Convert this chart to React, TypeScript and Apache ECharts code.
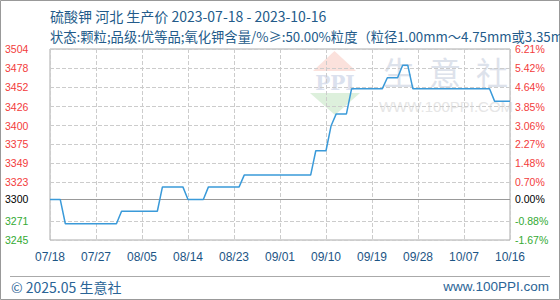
import React, { useEffect, useRef } from 'react';
import * as echarts from 'echarts';

const titleText = '硫酸钾 河北 生产价 2023-07-18 - 2023-10-16';
const subtitleText = '状态:颗粒;品级:优等品;氧化钾含量/%≥:50.00%粒度（粒径1.00mm～4.75mm或3.35mm～5.00mm）≥90%';
const footerLeft = '© 2025.05 生意社';
const footerRight = 'www.100PPI.com';

const startYear = 2023;
const startMonth = 7;
const startDay = 18;
const dayCount = 91;

const changeDates = [
  '07/18', '07/20', '07/21', '07/31', '08/01', '08/08', '08/09', '08/13', '08/14', '08/17',
  '08/18', '08/24', '08/25', '09/07', '09/08', '09/10', '09/11', '09/12', '09/14', '09/15',
  '09/21', '09/22', '09/24', '09/25', '09/26', '09/27', '10/12', '10/13', '10/16',
];
const changeValues = [
  3300, 3300, 3267, 3267, 3284, 3284, 3317, 3317, 3300, 3300,
  3317, 3317, 3333, 3333, 3366, 3366, 3400, 3416, 3416, 3450,
  3450, 3465, 3465, 3482, 3482, 3450, 3450, 3433, 3433,
];

const baseValue = 3300;
const leftTicks = [3245, 3271, 3300, 3323, 3349, 3375, 3400, 3426, 3452, 3478, 3504];
const rightTickLabels = ['-1.67%', '-0.88%', '0.00%', '0.70%', '1.48%', '2.27%', '3.06%', '3.85%', '4.64%', '5.42%', '6.21%'];

const pad = (n: number) => (n < 10 ? '0' + n : String(n));
const categories: string[] = [];
for (let i = 0; i < dayCount; i++) {
  const d = new Date(Date.UTC(startYear, startMonth - 1, startDay + i));
  categories.push(pad(d.getUTCMonth() + 1) + '/' + pad(d.getUTCDate()));
}

const RED = '#f33b3b';
const GREEN = '#33aa33';
const LABEL_FONT = "'Liberation Sans', Arial, sans-serif";
const CJK_FONT = "'Noto Sans CJK SC', 'Liberation Sans', sans-serif";

const tickColor = (v: any) => {
  const n = Number(v);
  if (n > baseValue) return RED;
  if (n < baseValue) return GREEN;
  return '#000';
};

export default function App() {
  const ref = useRef<HTMLDivElement>(null);
  useEffect(() => {
    document.body.style.margin = '0';
    if (!ref.current) return;
    const chart = echarts.init(ref.current, undefined, { renderer: 'svg' });
    const option: any = {
      animation: false,
      backgroundColor: '#fff',
      grid: {
        left: 50, right: 50, top: 49, bottom: 60,
        show: true, borderColor: '#aaa', borderWidth: 1, backgroundColor: 'transparent',
      },
      xAxis: {
        type: 'category',
        data: categories,
        boundaryGap: false,
        axisLine: { show: false },
        axisTick: { show: false },
        axisLabel: { interval: 8, color: '#1d5585', fontSize: 12, fontFamily: LABEL_FONT, margin: 11 },
        splitLine: { show: true, interval: 8, lineStyle: { color: '#cccccc', type: 'dashed', width: 1 } },
      },
      yAxis: [
        {
          type: 'value', min: 3245, max: 3504, position: 'left',
          axisLine: { show: false },
          axisTick: { show: false, customValues: leftTicks },
          axisLabel: {
            customValues: leftTicks,
            formatter: (v: any) => String(v),
            color: tickColor,
            align: 'left', margin: 45, fontSize: 10.5, fontFamily: LABEL_FONT,
          },
          splitLine: { show: true, lineStyle: { color: '#cccccc', type: 'dashed', width: 1 } },
        },
        {
          type: 'value', min: 3245, max: 3504, position: 'right',
          axisLine: { show: false },
          axisTick: { show: false, customValues: leftTicks },
          axisLabel: {
            customValues: leftTicks,
            formatter: (v: any) => rightTickLabels[leftTicks.indexOf(Number(v))] ?? '',
            color: tickColor,
            align: 'left', margin: 5, fontSize: 10.5, fontFamily: LABEL_FONT,
          },
          splitLine: { show: false },
        },
      ],
      series: [
        {
          type: 'line',
          data: changeDates.map((d, i) => [d, changeValues[i]]),
          showSymbol: false,
          symbol: 'none',
          lineStyle: { color: '#3a9ad9', width: 1.5 },
          z: 3,
          markLine: {
            silent: true,
            symbol: 'none',
            label: { show: false },
            lineStyle: { color: '#999', type: 'solid', width: 1 },
            data: [{ yAxis: baseValue }],
            z: 2,
          },
        },
      ],
      graphic: [
        { type: 'rect', z: -5, shape: { x: 0.5, y: 0.5, width: 559, height: 299 }, style: { fill: 'none', stroke: '#999', lineWidth: 1 } },
        // watermark
        { type: 'polygon', z: -5, shape: { points: [[334.5, 51], [313, 71], [356, 71]] }, style: { fill: '#fbe1dc' } },
        { type: 'text', z: -5, x: 335, y: 83, style: { text: 'PPI', fontSize: 20, fontWeight: 'bold', fill: '#dbe1ee', align: 'center', verticalAlign: 'middle', fontFamily: "'DejaVu Serif', serif" } },
        { type: 'polygon', z: -5, shape: { points: [[310, 93], [360, 93], [335, 115]] }, style: { fill: '#ddf0dc' } },
        { type: 'text', z: -5, x: 399, y: 71, style: { text: '生', fontSize: 32, fill: '#dde2eb', align: 'center', verticalAlign: 'middle', fontFamily: CJK_FONT } },
        { type: 'text', z: -5, x: 445, y: 71, style: { text: '意', fontSize: 32, fill: '#dde2eb', align: 'center', verticalAlign: 'middle', fontFamily: CJK_FONT } },
        { type: 'text', z: -5, x: 492, y: 71, style: { text: '社', fontSize: 32, fill: '#dde2eb', align: 'center', verticalAlign: 'middle', fontFamily: CJK_FONT } },
        { type: 'text', z: -5, x: 446, y: 106, style: { text: 'WWW.100PPI.COM', fontSize: 15, fill: '#e6e6e6', align: 'center', verticalAlign: 'middle', fontFamily: LABEL_FONT } },
        // titles
        { type: 'text', x: 50, y: 16, style: { text: titleText, fontSize: 14, fill: '#235b8a', verticalAlign: 'middle', fontFamily: CJK_FONT } },
        { type: 'text', x: 50, y: 36, style: { text: subtitleText, fontSize: 13.3, fill: '#235b8a', verticalAlign: 'middle', fontFamily: CJK_FONT } },
        // footer
        { type: 'line', shape: { x1: 10, y1: 276.5, x2: 550, y2: 276.5 }, style: { stroke: '#aaa', lineWidth: 1 } },
        { type: 'text', x: 11, y: 287, style: { text: footerLeft, fontSize: 14, fill: '#2a6496', verticalAlign: 'middle', fontFamily: CJK_FONT } },
        { type: 'text', x: 549, y: 286, style: { text: footerRight, fontSize: 13.5, fill: '#2a6496', align: 'right', verticalAlign: 'middle', fontFamily: LABEL_FONT } },
      ],
    };
    chart.setOption(option);
    return () => chart.dispose();
  }, []);
  return <div ref={ref} style={{ width: 560, height: 300 }} />;
}
